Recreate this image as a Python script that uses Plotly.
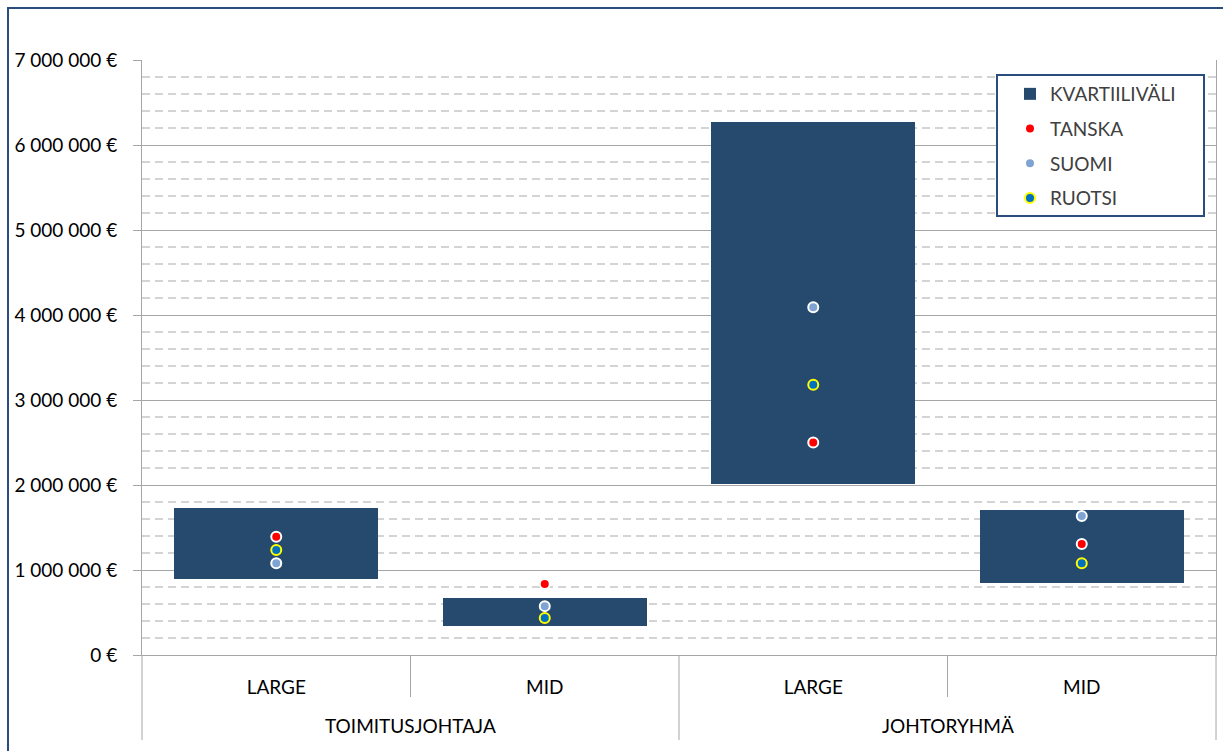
import plotly.graph_objects as go

# ---- data ----
groups = ["TOIMITUSJOHTAJA", "TOIMITUSJOHTAJA", "JOHTORYHMÄ", "JOHTORYHMÄ"]
sizes = ["LARGE", "MID", "LARGE", "MID"]
q_low = [900000, 340000, 2010000, 845000]
q_high = [1735000, 670000, 6270000, 1705000]
tanska = [1390000, 835000, 2500000, 1305000]
suomi = [1080000, 575000, 4090000, 1635000]
ruotsi = [1235000, 435000, 3180000, 1080000]

FONT = "Lato"
BAR = "#254A6E"
GRID = "#A6A6A6"
BORDER = "#2B4C7E"
cat_ids = [f"{g}|{s}" for g, s in zip(groups, sizes)]
n = len(cat_ids)

fig = go.Figure()
fig.add_trace(go.Bar(
    x=cat_ids, y=[h - l for h, l in zip(q_high, q_low)], base=q_low,
    name="KVARTIILIVÄLI", marker=dict(color=BAR, line=dict(width=0)),
    width=0.76, legendgroup="a", hoverinfo="skip"))
fig.add_trace(go.Scatter(
    x=cat_ids, y=tanska, mode="markers", name="TANSKA", legendgroup="b",
    marker=dict(color="#FF0000", size=10, line=dict(color="white", width=2))))
fig.add_trace(go.Scatter(
    x=cat_ids, y=suomi, mode="markers", name="SUOMI", legendgroup="c",
    marker=dict(color="#7FA3D3", size=10, line=dict(color="white", width=2))))
fig.add_trace(go.Scatter(
    x=cat_ids, y=ruotsi, mode="markers", name="RUOTSI", legendgroup="d",
    marker=dict(color="#0070C0", size=10, line=dict(color="#FFFF00", width=2))))

L, R, T, B = 142, 7, 60, 96
W, H = 1223, 751
pw, ph = W - L - R, H - T - B


def px(xp):
    return (xp - L) / pw


def py(yp):
    return (H - B - yp) / ph


shapes = [
    # outer chart border
    dict(type="rect", xref="paper", yref="paper",
         x0=px(8), x1=px(1240), y0=py(770), y1=py(8),
         line=dict(color=BORDER, width=2), layer="above"),
    # legend box
    dict(type="rect", xref="paper", yref="paper",
         x0=px(997), x1=px(1204), y0=py(216), y1=py(75),
         fillcolor="white", line=dict(color=BORDER, width=2), layer="above"),
]
annotations = []
spans = []
for i, g in enumerate(groups):
    if spans and spans[-1][0] == g:
        spans[-1][2] = i
    else:
        spans.append([g, i, i])
bounds = set()
for g, a, b in spans:
    annotations.append(dict(
        text=g, xref="paper", yref="paper", x=(a + b + 1) / 2 / n, y=py(725),
        xanchor="center", yanchor="middle", showarrow=False,
        font=dict(family=FONT, size=19, color="#000000")))
    bounds.add(a)
    bounds.add(b + 1)
for k in range(n + 1):
    full = k in bounds
    shapes.append(dict(
        type="line", xref="paper", yref="paper", x0=k / n, x1=k / n,
        y0=py(740 if full else 697), y1=0,
        line=dict(color=GRID, width=1)))

fig.update_layout(
    width=W, height=H,
    margin=dict(l=L, r=R, t=T, b=B, autoexpand=False),
    paper_bgcolor="white", plot_bgcolor="white",
    font=dict(family=FONT, size=19, color="#000000"),
    separators=", ",
    bargap=0,
    showlegend=True,
    legend=dict(x=px(1010), y=py(75), xanchor="left", yanchor="top",
                bgcolor="rgba(0,0,0,0)", borderwidth=0,
                font=dict(family=FONT, size=19, color="#404040"),
                traceorder="grouped", tracegroupgap=7, itemwidth=30),
    shapes=shapes,
    annotations=annotations,
)
fig.update_yaxes(
    range=[0, 7000000], dtick=1000000, tickformat=",.0f", ticksuffix=" €",
    showgrid=True, gridcolor=GRID, gridwidth=1,
    minor=dict(dtick=200000, showgrid=True, gridcolor="#D4D4D4",
               griddash="8px,5px", gridwidth=1.5),
    showline=True, linecolor=GRID, linewidth=1, mirror=True,
    ticks="outside", ticklen=8, tickcolor=GRID, ticklabelstandoff=12,
    zeroline=False, tickfont=dict(size=19, color="#000000"))
fig.update_xaxes(
    type="category", tickvals=cat_ids, ticktext=sizes,
    showline=True, linecolor=GRID, linewidth=1,
    ticks="", ticklabelstandoff=15,
    tickfont=dict(size=19, color="#000000"), showgrid=False)

fig.write_html("out.html", config={"displayModeBar": False},
               post_script="document.body.style.margin='0';")
